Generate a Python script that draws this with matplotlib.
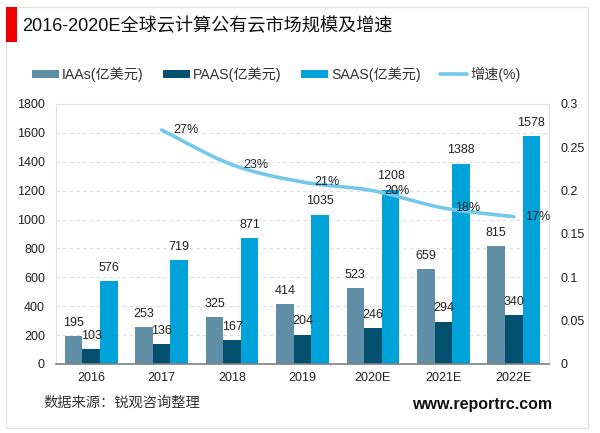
"""Global public cloud market size and growth, bars plus a smoothed growth line."""
from __future__ import annotations

import matplotlib

matplotlib.use("Agg")
import matplotlib.pyplot as plt
import numpy as np
from matplotlib.patches import Rectangle

plt.rcParams["font.family"] = ["Liberation Sans", "Noto Sans CJK SC", "DejaVu Sans"]

years = ["2016", "2017", "2018", "2019", "2020E", "2021E", "2022E"]
iaas = [195, 253, 325, 414, 523, 659, 815]
paas = [103, 136, 167, 204, 246, 294, 340]
saas = [576, 719, 871, 1035, 1208, 1388, 1578]
growth = [0.27, 0.23, 0.21, 0.20, 0.18, 0.17]
growth_labels = ["27%", "23%", "21%", "20%", "18%", "17%"]
left_ticks = [0, 200, 400, 600, 800, 1000, 1200, 1400, 1600, 1800]
right_ticks = [0, 0.05, 0.1, 0.15, 0.2, 0.25, 0.3]
right_labels = ["0", "0.05", "0.1", "0.15", "0.2", "0.25", "0.3"]

W, H = 600, 433
C_IAAS = "#5f8ea6"
C_PAAS = "#04506f"
C_SAAS = "#00a3d9"
C_LINE = "#74c8ea"
C_TEXT = "#222222"


def smooth(x, y, n=30):
    # catmull-rom through the points, like the office "smoothed line" option
    x = np.asarray(x, float)
    y = np.asarray(y, float)
    px = np.r_[2 * x[0] - x[1], x, 2 * x[-1] - x[-2]]
    py = np.r_[2 * y[0] - y[1], y, 2 * y[-1] - y[-2]]
    xs, ys = [], []
    t = np.linspace(0, 1, n)
    for i in range(1, len(px) - 2):
        for p, out in ((px, xs), (py, ys)):
            a, b, c, d = p[i - 1], p[i], p[i + 1], p[i + 2]
            out.append(0.5 * (2 * b + (c - a) * t + (2 * a - 5 * b + 4 * c - d) * t**2
                              + (3 * b - a - 3 * c + d) * t**3))
    return np.concatenate(xs), np.concatenate(ys)


fig = plt.figure(figsize=(W / 100, H / 100), dpi=100, facecolor="white")

# outer card and red title marker, kept behind the axes
fig.add_artist(Rectangle((6 / W, 1 - 428 / H), 582 / W, 421 / H, transform=fig.transFigure,
                         facecolor="white", edgecolor="#e4e4e4", lw=1.0, zorder=-2))
fig.add_artist(Rectangle((6 / W, 1 - 42 / H), 11 / W, 35 / H, transform=fig.transFigure,
                         facecolor="#f00000", edgecolor="none", zorder=-1))
fig.text(22 / W, 1 - 26 / H, "2016-2020E全球云计算公有云市场规模及增速", fontsize=13.1,
         color="#111111", va="center")

ax = fig.add_axes([56 / W, 1 - 364 / H, 493 / W, 260 / H])
ax.patch.set_alpha(0)
x = np.arange(len(years))
width = 0.25
ax.bar(x - width, iaas, width, color=C_IAAS, label="IAAs(亿美元)")
ax.bar(x, paas, width, color=C_PAAS, label="PAAS(亿美元)")
ax.bar(x + width, saas, width, color=C_SAAS, label="SAAS(亿美元)")

for i in x:
    ax.text(i - width, iaas[i] + 50, str(iaas[i]), ha="center", va="bottom", fontsize=9, color=C_TEXT)
    ax.text(i, paas[i] + 50, str(paas[i]), ha="center", va="bottom", fontsize=9, color=C_TEXT)
    ax.text(i + width, saas[i] + 50, str(saas[i]), ha="center", va="bottom", fontsize=9, color=C_TEXT)

ax.set_xlim(-0.5, len(years) - 0.5)
ax.set_ylim(0, 1800)
ax.set_xticks(x, years)
ax.set_yticks(left_ticks)
ax.tick_params(axis="both", length=0, labelsize=9, labelcolor=C_TEXT)
ax.tick_params(axis="x", pad=6)
ax.tick_params(axis="y", pad=8)
ax.grid(axis="y", color="#dddddd", ls=(0, (3, 3)), lw=0.8)
ax.set_axisbelow(True)
for side in ("top", "left", "right"):
    ax.spines[side].set_color("#e2e2e2")
ax.spines["bottom"].set_color("#808080")
ax.spines["bottom"].set_linewidth(1.2)

ax2 = ax.twinx()
ax2.set_ylim(0, 0.3)
ax2.set_yticks(right_ticks, right_labels)
ax2.tick_params(axis="y", length=0, labelsize=9, labelcolor=C_TEXT, pad=8)
for spine in ax2.spines.values():
    spine.set_visible(False)
sx, sy = smooth(x[1:], growth)
line, = ax2.plot(sx, sy, color=C_LINE, lw=2.6, solid_capstyle="round", label="增速(%)")
for i, v, lab in zip(x[1:], growth, growth_labels):
    ax2.text(i + 0.34, v, lab, ha="center", va="center", fontsize=9, color=C_TEXT, zorder=5)

handles = ax.get_legend_handles_labels()
fig.legend(handles[0] + [line], handles[1] + ["增速(%)"], loc="center left",
           bbox_to_anchor=(32 / W, 1 - 74 / H), ncol=4, frameon=False, fontsize=10.2,
           labelcolor="#333333", handlelength=1.9, handleheight=0.5, handletextpad=0.2,
           columnspacing=1.4, borderpad=0, borderaxespad=0)

fig.text(43 / W, 1 - 403 / H, "数据来源：锐观咨询整理", fontsize=10.3, color="#333333", va="center")
fig.text(552 / W, 1 - 404 / H, "www.reportrc.com", fontsize=11.5, color="#111111",
         fontweight="bold", ha="right", va="center")

fig.savefig("out.png", dpi=100)
